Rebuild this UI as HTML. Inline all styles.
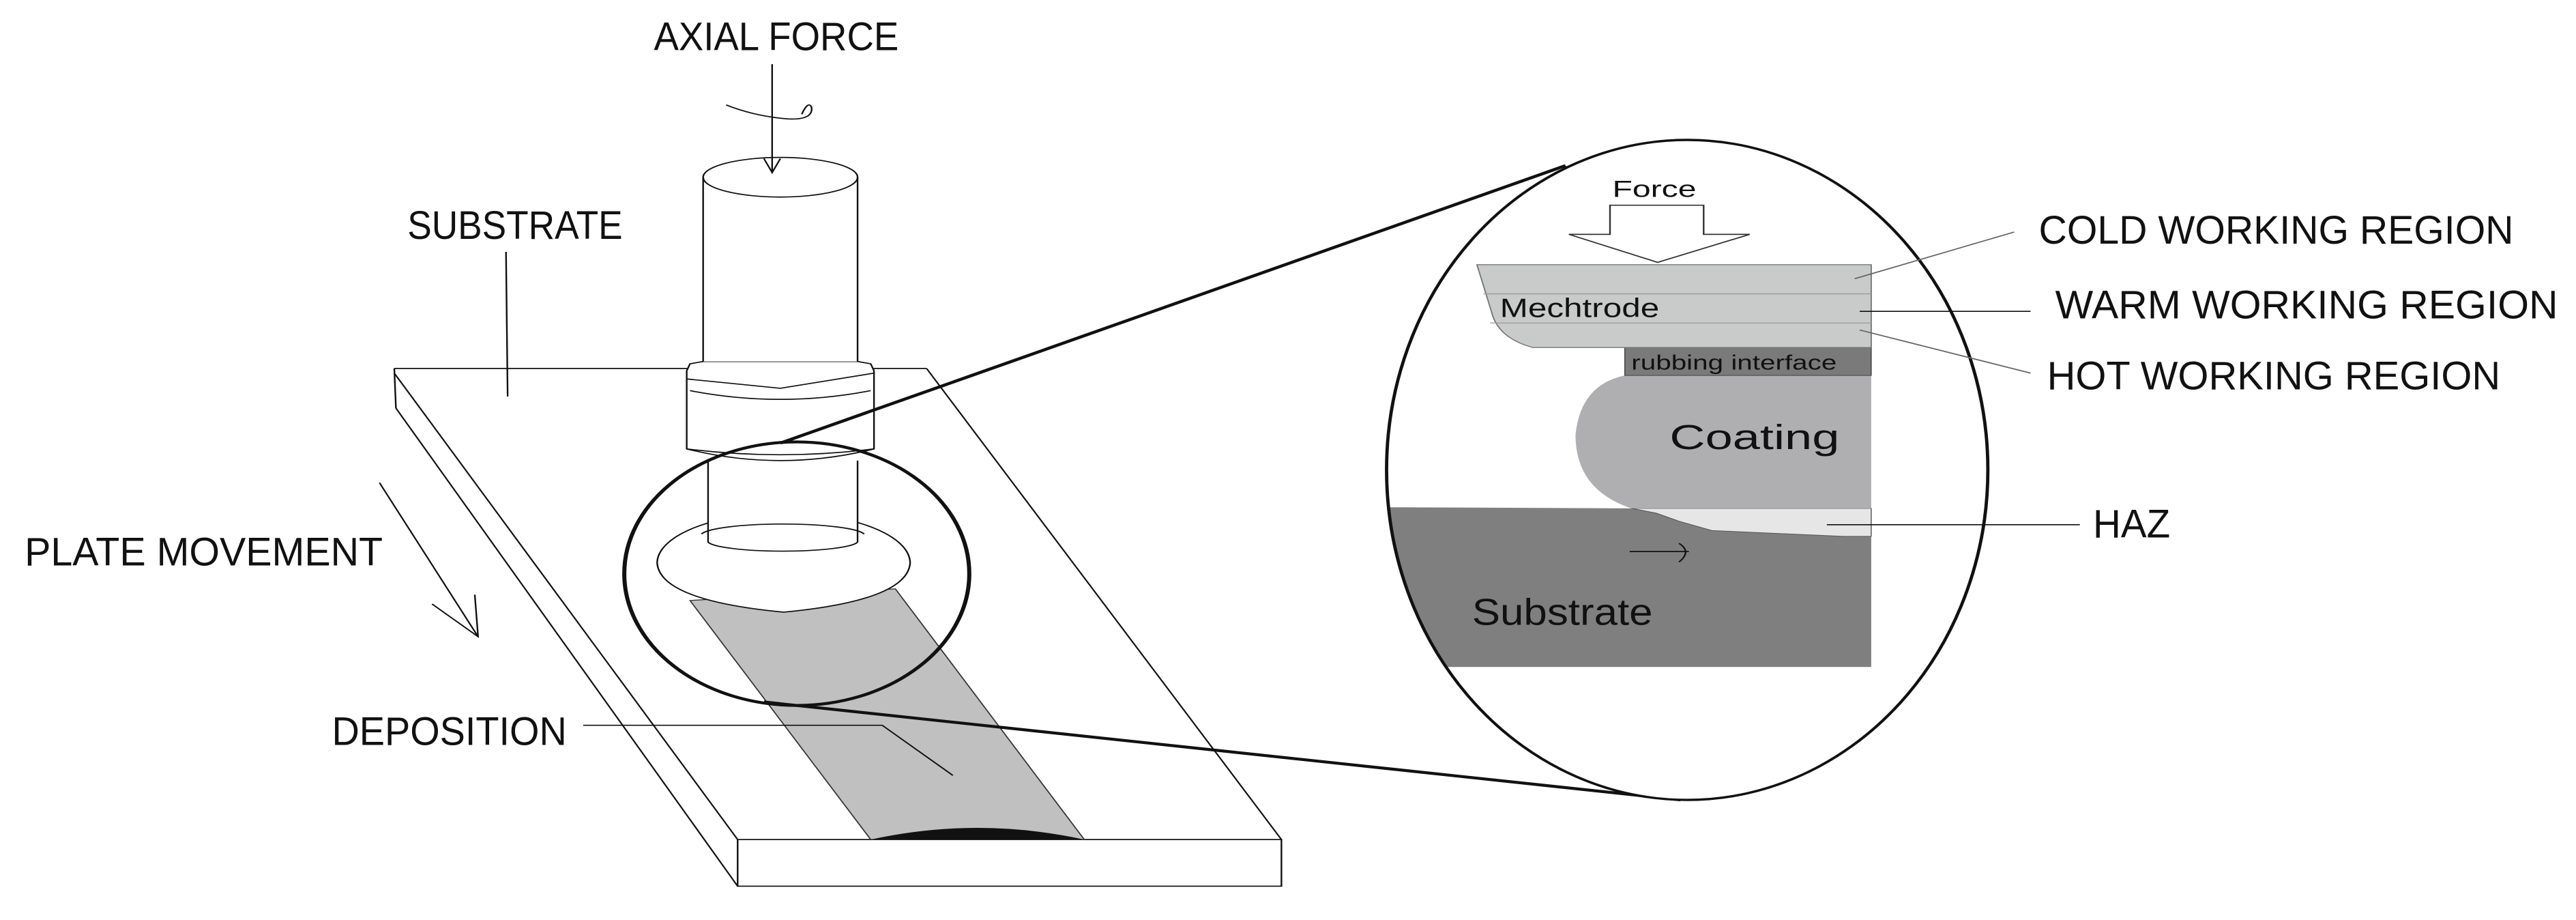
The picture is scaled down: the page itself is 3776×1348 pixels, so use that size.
<!DOCTYPE html>
<html><head><meta charset="utf-8"><style>
html,body{margin:0;padding:0;background:#fff;overflow:hidden;}
svg{display:block;}
text{font-family:"Liberation Sans",sans-serif;fill:#111;}
</style></head><body>
<svg width="3776" height="1348" viewBox="0 0 1568 789" preserveAspectRatio="none" xmlns="http://www.w3.org/2000/svg">
<defs>
<clipPath id="bc"><ellipse cx="1027" cy="403" rx="183" ry="283"/></clipPath>
</defs>
<g fill="none" stroke="#111" stroke-width="1">
<line x1="240" y1="316" x2="564" y2="316"/>
<line x1="564" y1="316" x2="780" y2="720"/>
<line x1="240" y1="316" x2="241" y2="350"/>
<line x1="240" y1="320" x2="449" y2="720"/>
<line x1="241" y1="350" x2="449" y2="760"/>
<rect x="449" y="720" width="331" height="40"/>
</g>
<polygon points="420,515 545,505 660,720 530,720" fill="#c0c0c0" stroke="#333" stroke-width="0.8"/>
<path d="M530,720 Q595,700 660,720 Z" fill="#111"/>
<g fill="#fff" stroke="#111" stroke-width="1">
<path d="M400,483 A77,43 0 0 1 554,483 Q552,515 477,525 Q402,515 400,483 Z"/>
<rect x="431" y="395" width="91" height="70" stroke="none"/>
<line x1="431" y1="395" x2="431" y2="465"/>
<line x1="522" y1="395" x2="522" y2="465"/>
<path d="M431,465 A46,9 0 0 0 522,465" fill="none"/>
<path d="M427,458 A50,10 0 0 1 526,458" fill="none"/>
<path d="M418,318 L420,312 L428,310 L522,310 L530,312 L532,318 L532,385 Q475,405 418,385 Z"/>
<path d="M418,325 L475,333 L532,320" fill="none"/>
<path d="M420,335 Q475,350 530,335" fill="none"/>
<path d="M418,385 Q475,395 532,385" fill="none"/>
<rect x="428" y="152" width="94" height="158" stroke="none"/>
<line x1="428" y1="152" x2="428" y2="310"/>
<line x1="522" y1="152" x2="522" y2="310"/>
<ellipse cx="475" cy="152" rx="47" ry="17"/>
</g>
<g fill="none" stroke="#111" stroke-width="1">
<line x1="470" y1="55" x2="470" y2="148"/>
<path d="M465,136 L470,148 L475,136"/>
<path d="M442,90 Q460,100 480,102 Q495,103 494,92 Q492,86 488,98"/>
<line x1="308" y1="216" x2="309" y2="340"/>
<line x1="231" y1="414" x2="291" y2="546"/>
<path d="M263,518 L291,546 L289,510"/>
<path d="M355,622 L537,622 L580,665"/>
</g>
<ellipse cx="485" cy="492" rx="105" ry="113" fill="none" stroke="#111" stroke-width="2.5"/>
<line x1="475" y1="380" x2="953" y2="142" stroke="#111" stroke-width="2.5"/>
<line x1="465" y1="602" x2="1023" y2="686" stroke="#111" stroke-width="2.5"/>
<ellipse cx="1027" cy="403" rx="183" ry="283" fill="#fff"/>
<g clip-path="url(#bc)">
<path d="M844,435 L993,436 L1008,440 L1022,447 L1042,455 L1122,460 L1139,460 L1139,572 L844,572 Z" fill="#7f7f7f"/>
</g>
<path d="M993,436 L1139,436 L1139,460 L1122,460 L1042,455 L1022,447 L1008,440 Z" fill="#e6e6e6" stroke="#555" stroke-width="0.6"/>
<path d="M989,322 L1139,322 L1139,436 L993,436 Q959,420 959,373 Q962,330 989,322 Z" fill="#afafb2"/>
<rect x="989" y="298" width="150" height="24" fill="#7a7a7a" stroke="#444" stroke-width="0.6"/>
<path d="M899,227 L1139,227 L1139,298 L933,298 Q912,290 908,268 Z" fill="#c9cbcb" stroke="#777" stroke-width="0.8"/>
<line x1="903" y1="252" x2="1139" y2="252" stroke="#999" stroke-width="0.8"/>
<line x1="907" y1="277" x2="1139" y2="277" stroke="#999" stroke-width="0.8"/>
<ellipse cx="1027" cy="403" rx="183" ry="283" fill="none" stroke="#111" stroke-width="2"/>
<polygon points="980,176 1037,176 1037,201 1065,201 1009,225 955,201 980,201" fill="#fff" stroke="#333" stroke-width="1"/>
<line x1="992" y1="473" x2="1028" y2="473" stroke="#111" stroke-width="1"/>
<path d="M1022,466 Q1030,473 1022,482" fill="none" stroke="#111" stroke-width="1"/>
<g stroke-width="1" fill="none">
<line x1="1226" y1="199" x2="1129" y2="239" stroke="#666"/>
<line x1="1132" y1="267" x2="1236" y2="267" stroke="#111"/>
<line x1="1132" y1="283" x2="1236" y2="320" stroke="#666"/>
<line x1="1112" y1="450" x2="1266" y2="450" stroke="#111"/>
</g>
<g font-size="34">
<text x="398" y="43" textLength="149" lengthAdjust="spacingAndGlyphs">AXIAL FORCE</text>
<text x="248" y="205" textLength="131" lengthAdjust="spacingAndGlyphs">SUBSTRATE</text>
<text x="15" y="485" textLength="218" lengthAdjust="spacingAndGlyphs">PLATE MOVEMENT</text>
<text x="202" y="639" textLength="143" lengthAdjust="spacingAndGlyphs">DEPOSITION</text>
<text x="1241" y="209" textLength="289" lengthAdjust="spacingAndGlyphs">COLD WORKING REGION</text>
<text x="1251" y="273" textLength="306" lengthAdjust="spacingAndGlyphs">WARM WORKING REGION</text>
<text x="1246" y="334" textLength="276" lengthAdjust="spacingAndGlyphs">HOT WORKING REGION</text>
<text x="1274" y="461" textLength="47" lengthAdjust="spacingAndGlyphs">HAZ</text>
</g>
<text x="1007" y="169" font-size="20" text-anchor="middle" fill="#333">Force</text>
<text x="913" y="272" font-size="23" textLength="97" lengthAdjust="spacingAndGlyphs" fill="#333">Mechtrode</text>
<text x="993" y="317" font-size="18" textLength="125" lengthAdjust="spacingAndGlyphs" fill="#222">rubbing interface</text>
<text x="1068" y="385" font-size="30" text-anchor="middle" fill="#222">Coating</text>
<text x="896" y="536" font-size="32" textLength="110" lengthAdjust="spacingAndGlyphs" fill="#222">Substrate</text>
</svg>
</body></html>
